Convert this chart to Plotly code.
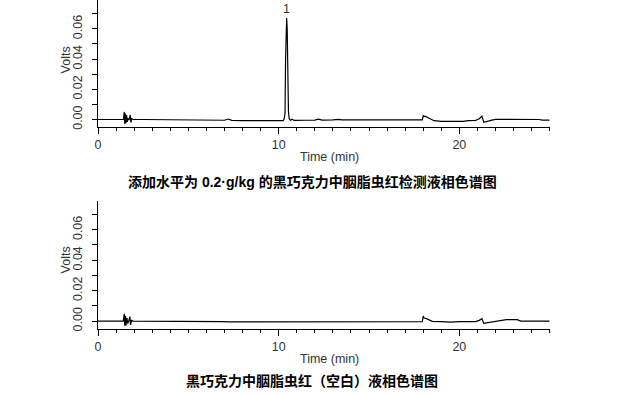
import plotly.graph_objects as go

# ---- data ----
t_sample = [0.0, 0.3, 0.5, 0.8, 1.0, 1.2, 1.40, 1.45, 1.48, 1.51, 1.54, 1.58, 1.62, 1.66, 1.72,
            1.78, 1.82, 1.86, 1.95, 2.5, 3.0, 3.5, 4.0, 4.5, 5.0, 5.5, 6.0, 6.5, 7.0, 7.2, 7.4,
            8.0, 9.0, 10.0, 10.25, 10.30, 10.35, 10.38, 10.44, 10.47, 10.50, 10.54, 10.58,
            10.65, 10.75, 10.85, 11.5, 12.0, 12.2, 12.4, 13.0, 13.3, 13.5, 14.0, 14.3, 14.6,
            15.0, 16.0, 17.0, 17.95, 18.00, 18.05, 18.1, 18.3, 18.6, 19.0, 19.5, 20.2, 20.5,
            20.9, 21.1, 21.25, 21.35, 21.5, 21.8, 22.0, 23.0, 24.0, 24.4, 24.6, 25.0]
v_sample = [0.0000, 0.0001, -0.0001, 0.0000, 0.0001, 0.0000, 0.0000, 0.0050, -0.0030, 0.0040,
            -0.0025, 0.0030, -0.0015, 0.0005, 0.0000, 0.0030, -0.0020, 0.0005, 0.0000, 0.0000,
            -0.0001, -0.0001, -0.0002, -0.0002, -0.0004, -0.0005, -0.0003, -0.0006, -0.0005,
            0.0003, -0.0006, -0.0008, -0.0009, -0.0009, -0.0008, 0.0005, 0.0040, 0.0400,
            0.0671, 0.0600, 0.0300, 0.0050, 0.0005, -0.0005, 0.0002, -0.0006, -0.0005, -0.0004,
            0.0002, -0.0004, -0.0003, 0.0001, -0.0003, -0.0002, 0.0001, -0.0002, -0.0002,
            -0.0003, -0.0003, -0.0003, 0.0025, 0.0020, 0.0022, 0.0008, -0.0008, -0.0012,
            -0.0013, -0.0013, -0.0008, -0.0006, 0.0005, 0.0022, -0.0018, -0.0012, -0.0004,
            0.0001, 0.0002, 0.0002, 0.0000, -0.0004, -0.0004]

t_blank = [0.0, 0.2, 0.4, 0.7, 1.0, 1.40, 1.45, 1.48, 1.52, 1.55, 1.60, 1.64, 1.70, 1.76, 1.80,
           1.85, 1.95, 3.0, 5.0, 6.6, 6.7, 6.8, 6.9, 7.2, 8.0, 9.0, 9.5, 10.0, 11.0, 12.0, 13.0,
           14.0, 15.0, 15.6, 15.8, 17.0, 17.95, 18.0, 18.05, 18.15, 18.3, 18.5, 19.0, 19.5,
           20.0, 20.9, 21.1, 21.25, 21.35, 21.5, 21.8, 22.0, 22.4, 22.6, 23.2, 23.4, 25.0]
v_blank = [0.0000, 0.0001, -0.0001, 0.0000, 0.0000, 0.0000, 0.0048, -0.0030, 0.0035, -0.0028,
           0.0020, -0.0015, 0.0000, 0.0030, -0.0025, 0.0005, 0.0000, 0.0000, 0.0000, 0.0000,
           -0.0003, 0.0001, -0.0003, -0.0005, -0.0005, -0.0005, -0.0004, -0.0003, -0.0003,
           -0.0002, -0.0002, -0.0002, -0.0002, -0.0005, -0.0002, -0.0003, -0.0003, 0.0033,
           0.0020, 0.0018, 0.0008, -0.0002, -0.0004, -0.0007, -0.0004, -0.0003, 0.0005, 0.0016,
           -0.0015, -0.0012, -0.0005, -0.0002, 0.0002, 0.0010, 0.0010, 0.0000, 0.0000]

peak_label = "1"
peak_time = 10.45
peak_height = 0.0671

x_title = "Time (min)"
y_title = "Volts"
caption_top = "添加水平为 0.2·g/kg 的黑巧克力中胭脂虫红检测液相色谱图"
caption_bottom = "黑巧克力中胭脂虫红（空白）液相色谱图"

# ---- figure ----
fig = go.Figure()
fig.add_trace(go.Scatter(x=t_sample, y=v_sample, mode="lines",
                         line=dict(color="black", width=1.2), xaxis="x", yaxis="y",
                         showlegend=False, hoverinfo="skip"))
fig.add_trace(go.Scatter(x=t_blank, y=v_blank, mode="lines",
                         line=dict(color="black", width=1.2), xaxis="x2", yaxis="y2",
                         showlegend=False, hoverinfo="skip"))

tickfont = dict(family="Liberation Sans, Arial, sans-serif", size=12.5, color="#333333")
xdom = [95.5 / 632, 549.3 / 632]

def xaxis(anchor):
    return dict(domain=xdom, anchor=anchor, range=[0, 25], dtick=10, tick0=0,
                showline=True, linecolor="black", linewidth=1, mirror=False,
                ticks="outside", ticklen=6, tickwidth=1, tickcolor="black",
                minor=dict(dtick=1, tick0=0, ticks="outside", ticklen=3, tickcolor="black"),
                showgrid=False, zeroline=False, tickfont=tickfont, fixedrange=True)

def yaxis(anchor, dom):
    return dict(domain=dom, anchor=anchor, range=[-0.0052, 0.0791], dtick=0.02, tick0=0,
                tickformat=".2f", tickangle=-90, ticklabelstandoff=5,
                showline=True, linecolor="black", linewidth=1,
                ticks="outside", ticklen=5, tickwidth=1, tickcolor="black",
                minor=dict(dtick=0.01, tick0=0, ticks="outside", ticklen=5, tickcolor="black"),
                showgrid=False, zeroline=False, tickfont=tickfont, fixedrange=True)

top_dom = [1 - 128 / 395, 1.0]
bot_dom = [1 - 330.7 / 395, 1 - 201.7 / 395]

fig.update_layout(
    width=632, height=395,
    margin=dict(l=0, r=0, t=0, b=0),
    paper_bgcolor="white", plot_bgcolor="white",
    xaxis=xaxis("y"), yaxis=yaxis("x", top_dom),
    xaxis2=xaxis("y2"), yaxis2=yaxis("x2", bot_dom),
)

labfont = dict(family="Liberation Sans, Arial, sans-serif", size=12.5, color="#333333")
capfont = dict(family="Liberation Sans, Noto Sans CJK SC, sans-serif", size=14, color="black")

def paper_note(text, px, py, font, angle=0):
    return dict(text=text, x=px / 632, y=1 - py / 395, xref="paper", yref="paper",
                xanchor="center", yanchor="middle", textangle=angle,
                showarrow=False, font=font)

annotations = [
    dict(text=peak_label, x=peak_time, y=peak_height, xref="x", yref="y",
         xanchor="center", showarrow=False, yanchor="bottom", yshift=0, font=labfont),
    paper_note(y_title, 63, 60, labfont, -90),
    paper_note(y_title, 63, 261, labfont, -90),
    paper_note(x_title, 328, 158, labfont),
    paper_note(x_title, 328, 361, labfont),
    paper_note("<b>" + caption_top + "</b>", 311, 183, capfont),
    paper_note("<b>" + caption_bottom + "</b>", 310, 383, capfont),
]
fig.update_layout(annotations=annotations)

fig.write_html("out.html", config={"displayModeBar": False},
               post_script="document.body.style.margin='0px';")
